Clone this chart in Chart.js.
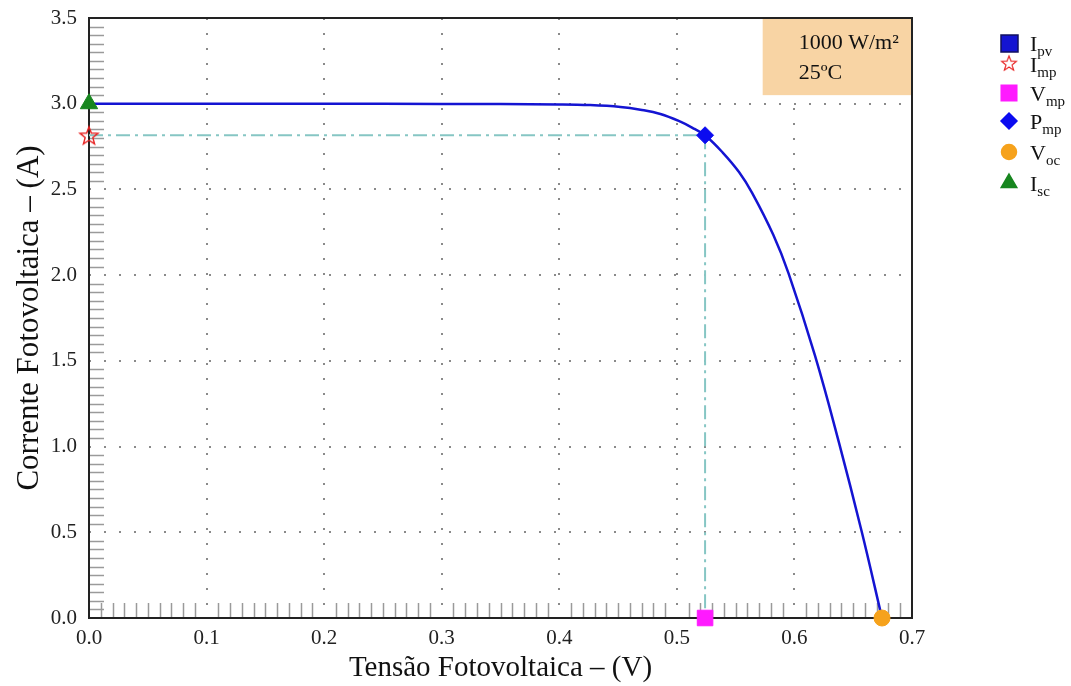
<!DOCTYPE html>
<html lang="pt">
<head>
<meta charset="UTF-8">
<title>Curva I-V</title>
<script src="https://cdn.jsdelivr.net/npm/chart.js"></script>
<style>
  html, body { margin: 0; padding: 0; background: #fff; }
  #ivChart { display: block; }
</style>
</head>
<body>
<canvas id="ivChart" width="1071" height="686"></canvas>
<script>
// curva I-V da célula (tensão em V, corrente em A)
const voltage = [0, 0.1, 0.2, 0.3, 0.35, 0.40, 0.426, 0.452, 0.469, 0.486, 0.503, 0.515, 0.524, 0.539, 0.553, 0.564, 0.582, 0.595, 0.6175, 0.638, 0.657, 0.6745];
const current = [3.0, 3.0, 3.0, 2.999, 2.998, 2.996, 2.992, 2.981, 2.965, 2.94, 2.895, 2.853, 2.816, 2.715, 2.60, 2.48, 2.235, 2.01, 1.53, 1.02, 0.51, 0.0];

// pontos notáveis
const vmp = 0.524;
const imp = 2.816;
const voc = 0.6745;
const isc = 3.0;

const xTicks = [0, 0.1, 0.2, 0.3, 0.4, 0.5, 0.6, 0.7];
const yTicks = [0, 0.5, 1.0, 1.5, 2.0, 2.5, 3.0, 3.5];

const legendMain = ['I', 'I', 'V', 'P', 'V', 'I'];
const legendSub = ['pv', 'mp', 'mp', 'mp', 'oc', 'sc'];
const conditionText = ['1000 W/m²', '25ºC'];

const SERIF = '"Liberation Serif", "DejaVu Serif", serif';
Chart.defaults.font.family = SERIF;
Chart.defaults.color = '#222';

// estrela de cinco pontas usada para Imp
function makeStar(size, color) {
  const c = document.createElement('canvas');
  c.width = size; c.height = size;
  const g = c.getContext('2d');
  const cx = size / 2, cy = size / 2 + 1, R = size / 2 - 1.5, r = R * 0.42;
  g.beginPath();
  for (let i = 0; i < 10; i++) {
    const ang = -Math.PI / 2 + i * Math.PI / 5;
    const rad = i % 2 === 0 ? R : r;
    g.lineTo(cx + rad * Math.cos(ang), cy + rad * Math.sin(ang));
  }
  g.closePath();
  g.strokeStyle = color;
  g.lineWidth = 1.4;
  g.stroke();
  return c;
}
const starImg = makeStar(22, '#e82222');

const curve = voltage.map((v, i) => ({ x: v, y: current[i] }));

const datasets = [
  { label: 'Ipv', data: curve, borderColor: '#1414d2', backgroundColor: '#1414d2',
    borderWidth: 2.5, pointRadius: 0, tension: 0.4, order: 2 },
  { label: 'Imp', data: [{ x: 0, y: imp }], pointStyle: starImg, pointRadius: 11,
    borderColor: '#e82222', backgroundColor: '#e82222', showLine: false, order: 0 },
  { label: 'Vmp', data: [{ x: vmp, y: 0 }], pointStyle: 'rect', pointRadius: 11,
    borderColor: '#ff1aff', backgroundColor: '#ff1aff', showLine: false, order: 0 },
  { label: 'Pmp', data: [{ x: vmp, y: imp }], pointStyle: 'rectRot', pointRadius: 8.5,
    borderColor: '#0b0bf0', backgroundColor: '#0b0bf0', showLine: false, order: 0 },
  { label: 'Voc', data: [{ x: voc, y: 0 }], pointStyle: 'circle', pointRadius: 8,
    borderColor: '#f6a21c', backgroundColor: '#f6a21c', showLine: false, order: 0 },
  { label: 'Isc', data: [{ x: 0, y: isc }], pointStyle: 'triangle', pointRadius: 10,
    borderColor: '#17861f', backgroundColor: '#17861f', showLine: false, order: 0 },
  // linhas de referência do ponto de máxima potência
  { label: 'refH', data: [{ x: 0, y: imp }, { x: vmp, y: imp }], borderColor: '#86c6c4',
    borderWidth: 2, borderDash: [14, 5, 3, 5], pointRadius: 0, order: 3, noLegend: true },
  { label: 'refV', data: [{ x: vmp, y: imp }, { x: vmp, y: 0 }], borderColor: '#86c6c4',
    borderWidth: 2, borderDash: [14, 5, 3, 5], pointRadius: 0, order: 3, noLegend: true }
];

// caixa com as condições, marcas menores, moldura e legenda
const decor = {
  id: 'decor',
  beforeDatasetsDraw(chart) {
    const { ctx, chartArea: a, scales: { x, y } } = chart;
    ctx.save();
    // caixa de condições
    const bx = x.getPixelForValue(0.573), by = y.getPixelForValue(3.05);
    ctx.fillStyle = '#f8d4a4';
    ctx.fillRect(bx, a.top, a.right - bx, by - a.top);
    ctx.fillStyle = '#111';
    ctx.font = '22px ' + SERIF;
    ctx.textBaseline = 'middle';
    ctx.fillText(conditionText[0], bx + 36, a.top + 25);
    ctx.fillText(conditionText[1], bx + 36, a.top + 55);

    // marcas menores
    ctx.strokeStyle = '#9a9a9a';
    ctx.lineWidth = 1.5;
    ctx.beginPath();
    for (let k = 1; k < 70; k++) {
      if (k % 10 === 0) continue;
      const px = Math.round(x.getPixelForValue(k / 100)) + 0.5;
      ctx.moveTo(px, a.bottom);
      ctx.lineTo(px, a.bottom - 15);
    }
    for (let k = 1; k < 70; k++) {
      if (k % 10 === 0) continue;
      const py = Math.round(y.getPixelForValue(k * 0.05)) + 0.5;
      ctx.moveTo(a.left, py);
      ctx.lineTo(a.left + 15, py);
    }
    ctx.stroke();

    // moldura
    ctx.strokeStyle = '#222';
    ctx.lineWidth = 2;
    ctx.strokeRect(a.left, a.top, a.right - a.left, a.bottom - a.top);
    ctx.restore();
  },
  afterDraw(chart) {
    const { ctx } = chart;
    ctx.save();
    const sx = 1009, tx = 1030;
    const rows = [43, 64, 93, 121, 152, 183];
    let r = 0;
    chart.data.datasets.forEach(ds => {
      if (ds.noLegend) return;
      const cy = rows[r];
      ctx.fillStyle = ds.backgroundColor;
      ctx.strokeStyle = ds.borderColor;
      if (r === 0) {
        ctx.fillRect(sx - 8, cy - 8, 17, 17);
        ctx.strokeStyle = '#101060';
        ctx.lineWidth = 1.5;
        ctx.strokeRect(sx - 8, cy - 8, 17, 17);
      } else if (ds.pointStyle === starImg) {
        ctx.drawImage(starImg, sx - 9, cy - 10, 18, 18);
      } else {
        const rad = { rect: 11, rectRot: 8, circle: 7.5, triangle: 9 }[ds.pointStyle];
        Chart.helpers.drawPoint(ctx, { pointStyle: ds.pointStyle, radius: rad, borderWidth: 1 }, sx, cy);
      }
      ctx.fillStyle = '#111';
      ctx.textBaseline = 'alphabetic';
      ctx.font = '22px ' + SERIF;
      ctx.fillText(legendMain[r], tx, cy + 8);
      const w = ctx.measureText(legendMain[r]).width;
      ctx.font = '15px ' + SERIF;
      ctx.fillText(legendSub[r], tx + w, cy + 13);
      r++;
    });
    ctx.restore();
  }
};

const noPad = s => { s.paddingTop = 0; s.paddingBottom = 0; s.paddingLeft = 0; s.paddingRight = 0; };

new Chart(document.getElementById('ivChart'), {
  type: 'scatter',
  data: { datasets },
  options: {
    responsive: false,
    animation: false,
    showLine: true,
    layout: { padding: { top: 18, right: 159, left: 0, bottom: 0 } },
    plugins: { legend: { display: false }, tooltip: { enabled: false } },
    elements: { point: { hoverRadius: 0 } },
    datasets: { scatter: { clip: false } },
    scales: {
      x: {
        type: 'linear', min: 0, max: 0.7,
        afterBuildTicks: s => { s.ticks = xTicks.map(v => ({ value: v })); },
        afterFit: s => { s.height = 68; noPad(s); },
        ticks: { padding: 8, font: { size: 21 }, color: '#222', callback: v => v.toFixed(1) },
        grid: { color: '#8a8a8a', lineWidth: 2, drawTicks: false },
        border: { display: false, dash: [2, 13] },
        title: { display: true, text: 'Tensão Fotovoltaica – (V)', font: { size: 29 }, color: '#111', padding: { top: 0, bottom: 0 } }
      },
      y: {
        type: 'linear', min: 0, max: 3.5,
        afterBuildTicks: s => { s.ticks = yTicks.map(v => ({ value: v })); },
        afterFit: s => { s.width = 89; noPad(s); },
        ticks: { padding: 12, font: { size: 21 }, color: '#222', callback: v => v.toFixed(1) },
        grid: { color: '#8a8a8a', lineWidth: 2, drawTicks: false },
        border: { display: false, dash: [2, 13] },
        title: { display: true, text: 'Corrente Fotovoltaica – (A)', font: { size: 31 }, color: '#111', padding: { top: 11, bottom: 0 } }
      }
    }
  },
  plugins: [decor]
});
</script>
</body>
</html>
